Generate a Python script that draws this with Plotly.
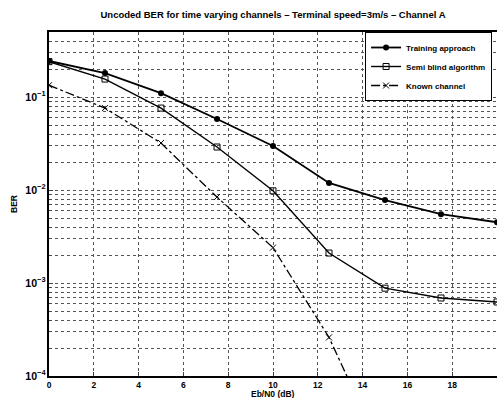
import plotly.graph_objects as go

ebn0 = [0, 2.5, 5, 7.5, 10, 12.5, 15, 17.5, 20]
training = [0.244, 0.181, 0.110, 0.058, 0.0297, 0.0119, 0.0078, 0.0055, 0.0045]
semi_blind = [0.240, 0.156, 0.076, 0.029, 0.0098, 0.0021, 0.00088, 0.00069, 0.000625]
known = [0.134, 0.076, 0.032, 0.0084, 0.0024, 0.00026, 0.000013]

x_ticks = [0, 2, 4, 6, 8, 10, 12, 14, 16, 18, 20]

font = "Liberation Sans, Arial, sans-serif"

fig = go.Figure()
fig.add_trace(go.Scatter(
    x=ebn0, y=training, name="Training approach", mode="lines+markers",
    line=dict(color="black", width=1.8),
    marker=dict(symbol="circle", size=6, color="black")))
fig.add_trace(go.Scatter(
    x=ebn0, y=semi_blind, name="Semi blind algorithm", mode="lines+markers",
    line=dict(color="black", width=1.4),
    marker=dict(symbol="square-open", size=6, color="black", line=dict(width=1))))
fig.add_trace(go.Scatter(
    x=ebn0[:len(known)], y=known, name="Known channel", mode="lines+markers",
    line=dict(color="black", width=1.3, dash="dashdot"),
    marker=dict(symbol="x-thin-open", size=6, color="black", line=dict(width=1, color="black"))))

fig.update_layout(
    width=497, height=398,
    margin=dict(l=49, r=0, t=32, b=22),
    paper_bgcolor="white", plot_bgcolor="white",
    font=dict(family=font, size=9, color="black"),
    title=dict(text="<b>Uncoded BER for time varying channels – Terminal speed=3m/s – Channel A</b>",
               xref="paper", x=0.5, xanchor="center", y=0.962, yanchor="middle",
               font=dict(size=9.5, family=font)),
    showlegend=True,
    legend=dict(x=0.989, y=1.0, xanchor="right", yanchor="top",
                bgcolor="white", bordercolor="black", borderwidth=1,
                font=dict(size=8, family=font, weight="bold"), tracegroupgap=0,
                itemwidth=30),
    annotations=[dict(text="<b>Eb/N0 (dB)</b>", xref="paper", yref="paper",
                      x=0.5, y=0, xanchor="center", yanchor="top", yshift=-11,
                      showarrow=False, font=dict(size=8.5, family=font))],
)
fig.update_xaxes(
    range=[0, 20], tickvals=x_ticks, ticks="inside", ticklen=4,
    showline=True, linecolor="black", linewidth=1.5, mirror=True,
    showgrid=True, gridcolor="#555", griddash="dot", gridwidth=1,
    zeroline=False, tickfont=dict(size=8.5, family=font, weight="bold"), automargin=False)
fig.update_yaxes(
    type="log", range=[-4, -0.301], dtick=1, exponentformat="power",
    ticks="inside", ticklen=4,
    showline=True, linecolor="black", linewidth=1.5, mirror=True,
    showgrid=True, gridcolor="#555", griddash="dot", gridwidth=1,
    minor=dict(dtick="D1", showgrid=True, gridcolor="#555", griddash="dot",
               ticks="inside", ticklen=2),
    zeroline=False, tickfont=dict(size=8.5, family=font, weight="bold"), automargin=False,
    title=dict(text="<b>BER</b>", font=dict(size=8.5), standoff=6))

fig.write_html("out.html",
               config={"displayModeBar": False},
               post_script="document.body.style.margin='0px';document.body.style.overflow='hidden';")
